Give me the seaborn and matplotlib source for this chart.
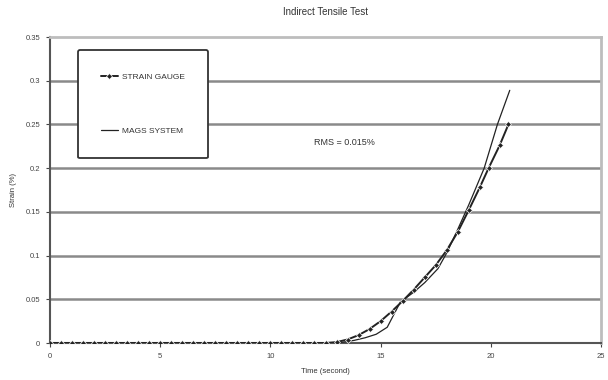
import matplotlib
matplotlib.use("Agg")
import matplotlib.pyplot as plt
import seaborn as sns
import pandas as pd

# Data
sg_time = [0.0, 0.5, 1.0, 1.5, 2.0, 2.5, 3.0, 3.5, 4.0, 4.5, 5.0, 5.5, 6.0, 6.5,
           7.0, 7.5, 8.0, 8.5, 9.0, 9.5, 10.0, 10.5, 11.0, 11.5, 12.0, 12.5,
           13.0, 13.5, 14.0, 14.5, 15.0, 15.5, 16.0, 16.5, 17.0, 17.5, 18.0,
           18.5, 19.0, 19.5, 19.9, 20.4, 20.8]
sg_strain = [0.0, 0.0, 0.0, 0.0, 0.0, 0.0, 0.0, 0.0, 0.0, 0.0, 0.0, 0.0, 0.0, 0.0,
             0.0, 0.0, 0.0, 0.0, 0.0, 0.0, 0.0, 0.0, 0.0, 0.0, 0.0, 0.0,
             0.001, 0.004, 0.009, 0.016, 0.025, 0.036, 0.048, 0.061, 0.075, 0.089,
             0.106, 0.127, 0.152, 0.178, 0.200, 0.226, 0.250]
mts_time = [0.0, 12.8, 13.3, 13.8, 14.3, 14.8, 15.3, 15.9, 16.5, 17.0, 17.6,
            18.0, 18.5, 19.0, 19.7, 20.3, 20.86]
mts_strain = [0.0, 0.0, 0.001, 0.003, 0.006, 0.010, 0.018, 0.047, 0.058, 0.069, 0.085,
              0.103, 0.130, 0.158, 0.200, 0.250, 0.289]
x_ticks = [0, 5, 10, 15, 20, 25]
y_ticks = [0, 0.05, 0.1, 0.15, 0.2, 0.25, 0.3, 0.35]
y_labels = ["0", "0.05", "0.1", "0.15", "0.2", "0.25", "0.3", "0.35"]
series_names = ["STRAIN GAUGE", "MAGS SYSTEM"]

sns.set_style("white")
plt.rcParams["font.family"] = ["Liberation Sans", "DejaVu Sans"]

fig = plt.figure(figsize=(6.08, 3.80), dpi=100)
ax = fig.add_axes([50 / 608, 1 - 343 / 380, 551 / 608, 306 / 380])

sg = pd.DataFrame({"t": sg_time, "s": sg_strain})
mts = pd.DataFrame({"t": mts_time, "s": mts_strain})

sns.lineplot(data=sg, x="t", y="s", ax=ax, color="#222222", lw=1.4,
             marker="D", markersize=3, markeredgewidth=0.5, label=series_names[0], zorder=4)
sns.lineplot(data=mts, x="t", y="s", ax=ax, color="#222222", lw=0.9,
             label=series_names[1], zorder=3)

ax.set_xlim(0, 25)
ax.set_ylim(0, 0.35)
ax.set_xticks(x_ticks)
ax.set_yticks(y_ticks)
ax.set_yticklabels(y_labels)
ax.tick_params(axis="both", labelsize=5.5, colors="#444444", length=3, width=0.8,
               direction="out", left=True, bottom=True, pad=4)
for y in y_ticks[1:-1]:
    ax.axhline(y, color="#8a8a8a", lw=1.8, zorder=1)

for side in ["top", "right"]:
    ax.spines[side].set_color("#bdbdbd")
    ax.spines[side].set_linewidth(2)
for side in ["left", "bottom"]:
    ax.spines[side].set_color("#555555")
    ax.spines[side].set_linewidth(1.5)

ax.set_xlabel("Time (second)", fontsize=5.5, color="#333333", labelpad=6)
ax.set_ylabel("Strain (%)", fontsize=5.5, color="#333333", labelpad=6)
ax.set_title("Indirect Tensile Test", fontsize=7, color="#333333", pad=16)

ax.text(12.0, 0.229, "RMS = 0.015%", fontsize=6.5, color="#333333", va="center")

leg = ax.legend(loc="upper left", bbox_to_anchor=(0.051, 0.957), fontsize=6,
                frameon=True, fancybox=True, edgecolor="#333333", facecolor="white",
                framealpha=1, labelspacing=5.6, borderpad=2.75, handlelength=2.0,
                handletextpad=0.5, borderaxespad=0)
leg.get_frame().set_linewidth(1.3)
leg.set_zorder(5)
for t in leg.get_texts():
    t.set_color("#333333")

fig.savefig("out.png", dpi=100)
